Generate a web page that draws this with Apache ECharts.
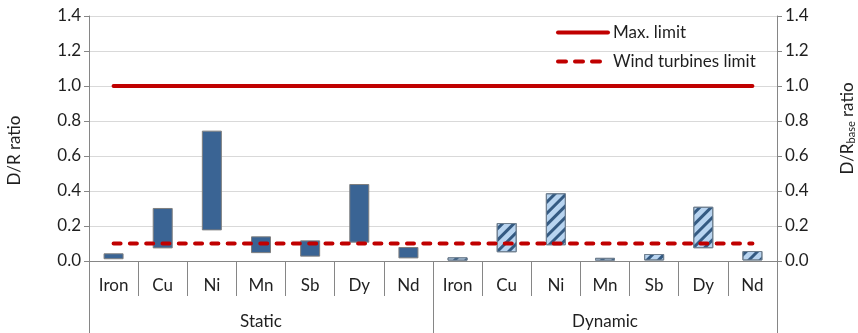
<!DOCTYPE html>
<html>
<head>
<meta charset="utf-8">
<script src="https://cdn.jsdelivr.net/npm/echarts@6/dist/echarts.min.js"></script>
<style>
  html, body { margin: 0; padding: 0; background: #fff; }
  #chart { width: 858px; height: 333px; }
</style>
</head>
<body>
<div id="chart"></div>
<script>
// Elements measured in each test mode
const elements = ['Iron', 'Cu', 'Ni', 'Mn', 'Sb', 'Dy', 'Nd'];
const groups = ['Static', 'Dynamic'];

// D/R ratio ranges (low / high) per element
const staticLow   = [0.010, 0.072, 0.175, 0.045, 0.025, 0.105, 0.015];
const staticHigh  = [0.044, 0.303, 0.745, 0.141, 0.118, 0.440, 0.080];
const dynamicLow  = [0.002, 0.050, 0.090, 0.002, 0.003, 0.073, 0.003];
const dynamicHigh = [0.021, 0.217, 0.387, 0.018, 0.040, 0.310, 0.057];

// Reference limits
const maxLimit  = [1.0, 1.0, 1.0, 1.0, 1.0, 1.0, 1.0, 1.0, 1.0, 1.0, 1.0, 1.0, 1.0, 1.0];
const windLimit = [0.1, 0.1, 0.1, 0.1, 0.1, 0.1, 0.1, 0.1, 0.1, 0.1, 0.1, 0.1, 0.1, 0.1];

const yTicks = { min: 0, max: 1.4, interval: 0.2 };

const FONT = 'Lato';
const FS = 17;
const TEXT = '#1F1F1F';
const AXIS_GREY = '#868686';
const RED = '#C00000';

const categories = elements.concat(elements);
const gap = '-';
const baseData = staticLow.concat(dynamicLow);
const staticSpan = staticHigh.map((h, i) => +(h - staticLow[i]).toFixed(4))
  .concat(elements.map(() => gap));
const dynamicSpan = elements.map(() => gap)
  .concat(dynamicHigh.map((h, i) => +(h - dynamicLow[i]).toFixed(4)));

const chart = echarts.init(document.getElementById('chart'), null, { renderer: 'canvas' });

const yAxisCommon = {
  type: 'value',
  min: yTicks.min,
  max: yTicks.max,
  interval: yTicks.interval,
  axisLine: { show: true, lineStyle: { color: AXIS_GREY, width: 1 } },
  axisTick: { show: true, length: 5, lineStyle: { color: AXIS_GREY } },
  axisLabel: {
    fontFamily: FONT, fontSize: FS, color: TEXT,
    formatter: v => v.toFixed(1)
  },
  nameLocation: 'middle',
  nameRotate: 90
};

chart.setOption({
  backgroundColor: '#fff',
  animation: false,
  grid: { left: 89, right: 81, top: 16, bottom: 72, outerBoundsMode: 'none' },
  legend: {
    orient: 'vertical',
    left: 556,
    top: 24,
    padding: 0,
    itemWidth: 50,
    itemHeight: 20,
    itemGap: 12,
    itemStyle: { opacity: 0 },
    textStyle: { fontFamily: FONT, fontSize: FS, color: TEXT },
    data: [
      { name: 'Max. limit', lineStyle: { width: 4 } },
      { name: 'Wind turbines limit', lineStyle: { width: 4, type: [8, 9] } }
    ]
  },
  xAxis: [
    {
      type: 'category',
      data: categories,
      position: 'bottom',
      axisLine: { show: true, lineStyle: { color: AXIS_GREY } },
      axisTick: { show: true, interval: 0, length: 35, alignWithLabel: false, lineStyle: { color: AXIS_GREY } },
      axisLabel: { interval: 0, margin: 16, fontFamily: FONT, fontSize: FS, color: TEXT },
      splitLine: { show: false }
    },
    {
      type: 'category',
      data: groups,
      position: 'bottom',
      axisLine: { show: false },
      axisTick: { show: true, interval: 0, length: 72, alignWithLabel: false, lineStyle: { color: AXIS_GREY } },
      axisLabel: { interval: 0, margin: 52, fontFamily: FONT, fontSize: FS, color: TEXT },
      splitLine: { show: false }
    }
  ],
  yAxis: [
    Object.assign({}, yAxisCommon, {
      position: 'left',
      name: 'D/R ratio',
      nameGap: 66,
      nameTextStyle: { fontFamily: FONT, fontSize: FS, color: TEXT, padding: [0, 24, 0, 0] },
      splitLine: { show: true, lineStyle: { color: '#D9D9D9', width: 1 } }
    }),
    Object.assign({}, yAxisCommon, {
      position: 'right',
      name: 'D/R{sub|base} ratio',
      nameGap: 61,
      nameTextStyle: {
        fontFamily: FONT, fontSize: FS, color: TEXT, padding: [0, 0, 0, 20],
        rich: { sub: { fontFamily: FONT, fontSize: 11, color: TEXT, padding: [8, 0, 0, 0] } }
      },
      splitLine: { show: false }
    })
  ],
  series: [
    {
      name: 'base',
      type: 'bar',
      stack: 'range',
      barWidth: 20,
      silent: true,
      itemStyle: { color: 'transparent' },
      data: baseData
    },
    {
      name: 'Static',
      type: 'bar',
      stack: 'range',
      barWidth: 20,
      itemStyle: { color: '#3A6494', borderColor: '#7F7F7F', borderWidth: 1 },
      data: staticSpan
    },
    {
      name: 'Dynamic',
      type: 'bar',
      stack: 'range',
      barWidth: 20,
      itemStyle: {
        color: '#B8D4F0',
        borderColor: '#6F7F8F',
        borderWidth: 1,
        decal: {
          symbol: 'rect',
          dashArrayX: [1, 0],
          dashArrayY: [2.5, 4.5],
          rotation: -Math.PI / 4,
          color: '#345A82'
        }
      },
      data: dynamicSpan
    },
    {
      name: 'Max. limit',
      type: 'line',
      data: maxLimit,
      symbol: 'none',
      z: 5,
      color: RED,
      lineStyle: { color: RED, width: 4, cap: 'round' }
    },
    {
      name: 'Wind turbines limit',
      type: 'line',
      data: windLimit,
      symbol: 'none',
      z: 5,
      color: RED,
      lineStyle: { color: RED, width: 4, type: [7, 9.3], cap: 'round' }
    }
  ]
});
</script>
</body>
</html>
